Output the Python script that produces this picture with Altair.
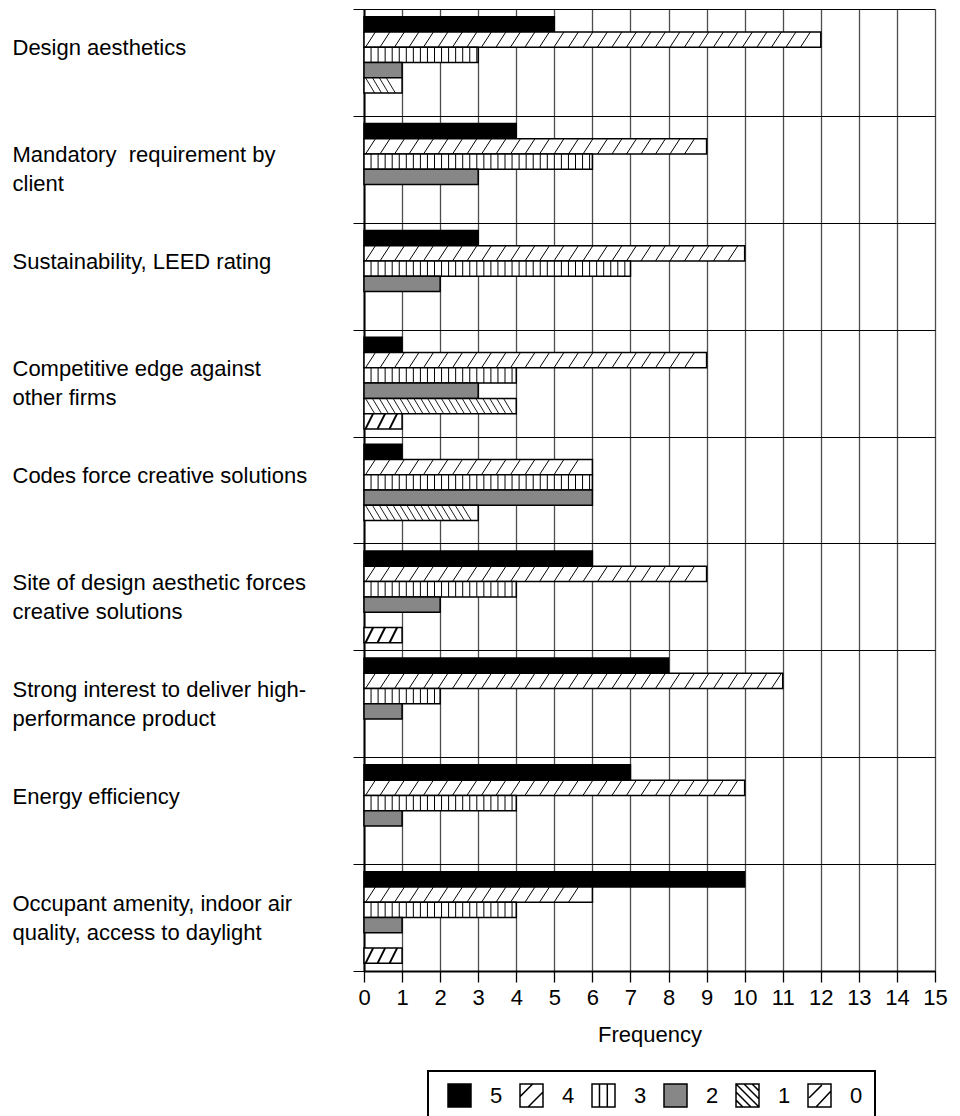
import altair as alt
import pandas as pd

# ---------------- data ----------------
categories = [
    "Design aesthetics",
    "Mandatory \u00a0requirement by\nclient",
    "Sustainability, LEED rating",
    "Competitive edge against\nother firms",
    "Codes force creative solutions",
    "Site of design aesthetic forces\ncreative solutions",
    "Strong interest to deliver high-\nperformance product",
    "Energy efficiency",
    "Occupant amenity, indoor air\nquality, access to daylight",
]
ratings = ["5", "4", "3", "2", "1", "0"]
freq_5 = [5, 4, 3, 1, 1, 6, 8, 7, 10]
freq_4 = [12, 9, 10, 9, 6, 9, 11, 10, 6]
freq_3 = [3, 6, 7, 4, 6, 4, 2, 4, 4]
freq_2 = [1, 3, 2, 3, 6, 2, 1, 1, 1]
freq_1 = [1, 0, 0, 4, 3, 0, 0, 0, 0]
freq_0 = [0, 0, 0, 1, 0, 1, 0, 0, 1]
x_ticks = list(range(16))

# ---------------- styling ----------------
FONT = "Liberation Sans"
W, H = 571, 962
X_MAX = 15
ppu = W / X_MAX
bar_h = H / len(categories) / (len(ratings) + 1)
fill_colors = ["#000000", "#ffffff", "#ffffff", "#878787", "#ffffff", "#ffffff"]
outline_colors = ["#000000"] * len(ratings)

SQ = "M-1,-1L1,-1L1,1L-1,1Z"
legend_paths = [
    SQ,
    SQ + " M-1,0.1L0.1,-1 M-0.3,1L1,-0.3",
    SQ + " M-0.35,-1L-0.35,1 M0.33,-1L0.33,1",
    SQ,
    SQ + " M-1,0.4L-0.4,1 M-1,-0.3L0.3,1 M-1,-1L1,1 M-0.3,-1L1,0.3 M0.4,-1L1,-0.4",
    SQ + " M-0.9,0.2L0.2,-0.9 M-0.3,1L1,-0.4",
]

# hatch line patterns: (path, x-extent factor of path, spacing px, stroke width)
hatch_style = {
    "4": ("M-0.65,1L0.65,-1", 0.65, 14.5, 1.0),
    "3": ("M0,-1L0,1", 0.0, 7.05, 1.0),
    "1": ("M-0.6,-1L0.6,1", 0.6, 6.9, 0.9),
    "0": ("M-0.5,1L0.5,-1", 0.5, 12.0, 2.0),
}

series = dict(zip(ratings, [freq_5, freq_4, freq_3, freq_2, freq_1, freq_0]))
rows = []
for r in ratings:
    for c, v in zip(categories, series[r]):
        rows.append({"category": c, "rating": r, "value": v})
bars_df = pd.DataFrame(rows)

hrows = []
for r, (path, fx, step, sw) in hatch_style.items():
    half = fx * bar_h / 2
    for c, v in zip(categories, series[r]):
        length = v * ppu
        pos = step if half == 0 else half + 1.5
        while pos + half <= length - 1.0:
            hrows.append({"category": c, "rating": r, "xc": pos / ppu})
            pos += step
hatch_df = pd.DataFrame(hrows)
legend_df = pd.DataFrame({"rating": ratings})

# ---------------- scales / axes ----------------
x_scale = alt.Scale(domain=[0, X_MAX], nice=False, zero=True)
x_axis = alt.Axis(
    values=x_ticks, format="d", grid=True, gridColor="#4d4d4d", gridWidth=1.3,
    tickColor="black", tickSize=11, tickWidth=1.3,
    domainColor="black", domainWidth=2,
    labelFont=FONT, labelFontSize=22, labelColor="black", labelPadding=5,
    labelFlush=False, labelOverlap=False,
    title="Frequency", titleFont=FONT, titleFontSize=22, titleFontWeight="normal",
    titleColor="black", titlePadding=16,
)
y_scale = alt.Scale(domain=categories, paddingInner=0, paddingOuter=0)
y_axis = alt.Axis(
    title=None, tickBand="extent", grid=True, gridColor="black", gridWidth=1,
    tickColor="black", tickSize=11, tickWidth=1,
    domainColor="black", domainWidth=2,
    labelAlign="left", labelBaseline="middle", labelPadding=341, labelOffset=-14.5,
    labelFont=FONT, labelFontSize=22, labelColor="black", labelLimit=400,
    labelLineHeight=29,
    labelExpr="split(datum.label, '\\n')",
)
off_scale = alt.Scale(domain=ratings, paddingInner=0, paddingOuter=0.5)

y_enc = alt.Y("category:N", scale=y_scale, axis=y_axis, title=None)
yoff = alt.YOffset("rating:N", scale=off_scale)

# bar fills (domain listed in reverse so it does not merge with the legend's scales)
bars = alt.Chart(bars_df).transform_filter("datum.value > 0").mark_bar(
    stroke="black", strokeWidth=1.5
).encode(
    x=alt.X("value:Q", scale=x_scale, axis=x_axis, title="Frequency"),
    y=y_enc,
    yOffset=yoff,
    color=alt.Color(
        "rating:N",
        scale=alt.Scale(domain=ratings[::-1], range=fill_colors[::-1]),
        legend=None,
    ),
)

hatch_layers = []
for r, (path, fx, step, sw) in hatch_style.items():
    hatch_layers.append(
        alt.Chart(hatch_df).transform_filter(alt.datum.rating == r).mark_point(
            shape=path, size=bar_h ** 2, filled=False, stroke="black",
            strokeWidth=sw, opacity=1,
        ).encode(
            x=alt.X("xc:Q", scale=x_scale, axis=x_axis, title="Frequency"),
            y=y_enc,
            yOffset=yoff,
        )
    )

leg = alt.Legend(
    title=None, orient="none", legendX=64, legendY=1062, direction="horizontal",
    labelFont=FONT, labelFontSize=22, labelColor="black", labelOffset=18,
    columnPadding=9, symbolSize=529,
    symbolStrokeWidth=1.5, symbolOpacity=1, padding=12, symbolOffset=7,
    strokeColor="black", fillColor="white",
)
legend_layer = alt.Chart(legend_df).mark_point(
    filled=True, size=0, strokeWidth=1.5
).encode(
    fill=alt.Fill("rating:N", scale=alt.Scale(domain=ratings, range=fill_colors), legend=leg),
    stroke=alt.Stroke("rating:N", scale=alt.Scale(domain=ratings, range=outline_colors), legend=leg),
    shape=alt.Shape("rating:N", scale=alt.Scale(domain=ratings, range=legend_paths), legend=leg),
)

chart = alt.layer(bars, *hatch_layers, legend_layer).properties(
    width=W, height=H,
    autosize=alt.AutoSizeParams(type="none"),
    padding={"left": 356, "top": 1, "right": 17, "bottom": 146},
    background="white",
).configure_view(stroke=None).configure_legend(strokeWidth=2)

chart.save("out.html", embed_options={"renderer": "svg", "actions": False})
